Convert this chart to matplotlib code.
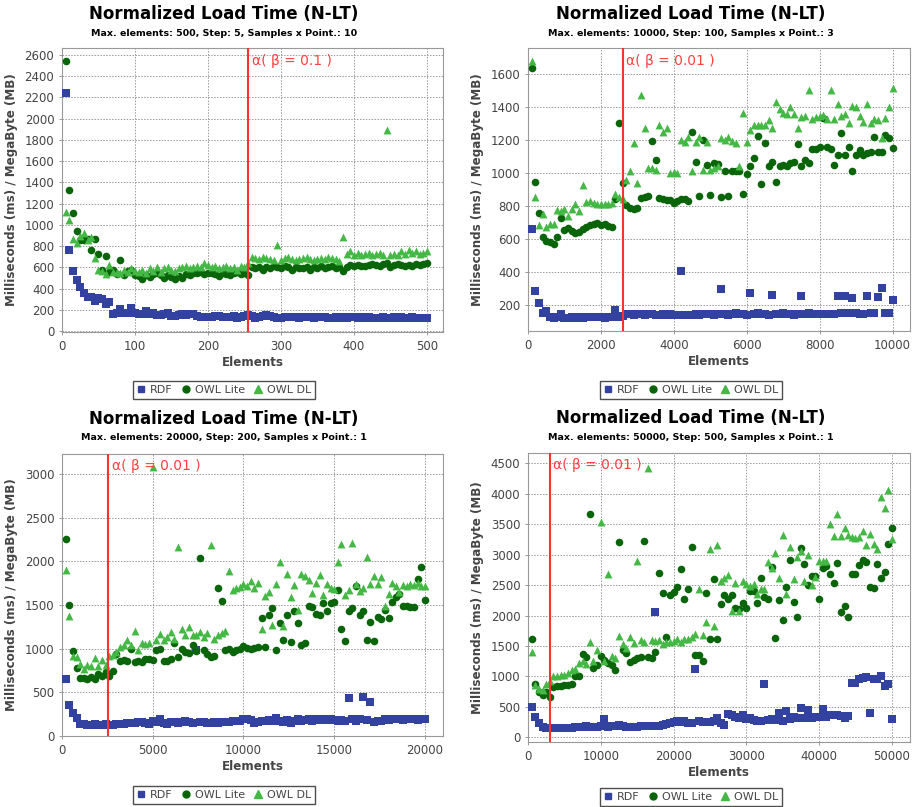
import matplotlib
matplotlib.use('Agg')
import matplotlib.pyplot as plt
from matplotlib.lines import Line2D
import numpy as np

plt.rc('font', family='DejaVu Sans', size=8)

W, H = 914, 807

BLUE = '#3341a0'
DARK_GREEN = '#0a640a'
LIGHT_GREEN = '#44b844'
TEXT_GRAY = '#444444'

series_names = ['RDF', 'OWL Lite', 'OWL DL']

# ---- panel 1: max 500, step 5, 10 samples ----
max1, step1 = 500, 5
rdf1 = [2240, 760, 570, 480, 420, 360, 320, 320, 280, 310,
        300, 260, 270, 160, 170, 210, 170, 175, 220, 170,
        160, 165, 190, 160, 170, 150, 150, 160, 170, 145,
        140, 155, 160, 150, 165, 160, 140, 130, 130, 135,
        130, 140, 145, 135, 130, 130, 140, 125, 130, 140,
        150, 140, 125, 130, 140, 150, 140, 130, 125, 120,
        130, 130, 135, 130, 125, 130, 130, 130, 125, 130,
        130, 135, 125, 120, 130, 125, 130, 125, 130, 130,
        125, 130, 125, 130, 125, 120, 125, 130, 125, 125,
        130, 125, 130, 125, 125, 130, 125, 125, 125, 125]
lite1 = [2540, 1330, 1110, 940, 860, 860, 870, 760, 870, 730,
         580, 710, 560, 580, 540, 670, 530, 570, 580, 530,
         520, 490, 530, 510, 540, 550, 530, 500, 530, 510,
         490, 520, 500, 540, 530, 550, 550, 560, 540, 550,
         550, 540, 520, 550, 540, 530, 550, 560, 540, 550,
         530, 600, 590, 600, 580, 600, 590, 610, 600, 590,
         610, 600, 580, 600, 590, 590, 600, 580, 600, 590,
         610, 590, 600, 610, 590, 600, 570, 600, 620, 610,
         620, 610, 610, 620, 630, 620, 610, 630, 640, 600,
         620, 630, 620, 610, 620, 610, 630, 620, 630, 645]
dl1 = [1120, 1050, 870, 830, 900, 920, 860, 890, 690, 580,
       570, 540, 620, 560, 560, 550, 580, 560, 590, 570,
       560, 580, 550, 590, 570, 600, 560, 590, 600, 580,
       570, 590, 600, 610, 590, 600, 610, 600, 640, 620,
       600, 610, 590, 600, 610, 590, 600, 580, 610, 600,
       640, 700, 690, 680, 700, 690, 680, 670, 810, 670,
       690, 700, 680, 670, 680, 690, 700, 680, 670, 680,
       690, 680, 700, 690, 680, 660, 890, 730, 750, 720,
       740, 720, 730, 740, 720, 730, 740, 720, 1890, 720,
       730, 720, 750, 730, 760, 740, 750, 730, 740, 750]

# ---- panel 2: max 10000, step 100, 3 samples ----
max2, step2 = 10000, 100
rdf2 = [660, 285, 215, 155, 165, 125, 120, 130, 145, 120,
        120, 125, 120, 125, 120, 125, 125, 130, 125, 125,
        120, 125, 125, 170, 130, 135, 145, 145, 140, 145,
        145, 140, 145, 145, 140, 140, 145, 140, 145, 140,
        140, 405, 140, 140, 140, 145, 140, 145, 145, 145,
        140, 145, 300, 145, 140, 145, 150, 145, 145, 140,
        275, 145, 150, 145, 145, 140, 260, 145, 145, 150,
        145, 145, 140, 145, 255, 145, 150, 145, 145, 145,
        145, 145, 145, 145, 255, 150, 255, 150, 245, 150,
        145, 145, 255, 150, 155, 250, 305, 150, 150, 230]
lite2 = [1635, 945, 755, 610, 590, 580, 570, 615, 730, 655,
         665, 650, 635, 645, 660, 670, 685, 690, 700, 685,
         690, 680, 675, 845, 1300, 940, 805, 790, 780, 790,
         850, 855, 860, 1195, 1080, 850, 840, 835, 835, 820,
         830, 840, 840, 830, 1250, 1065, 860, 1200, 1050, 865,
         1060, 1055, 855, 1015, 860, 1010, 1010, 1010, 870, 995,
         1040, 1090, 1225, 935, 1180, 1045, 1065, 945, 1045, 1050,
         1045, 1060, 1065, 1175, 1045, 1080, 1060, 1145, 1145, 1160,
         1335, 1160, 1145, 1050, 1110, 1240, 1110, 1160, 1015, 1110,
         1140, 1110, 1120, 1130, 1220, 1130, 1125, 1230, 1210, 1150]
dl2 = [1680, 855, 685, 750, 670, 690, 690, 775, 770, 780,
       740, 780, 810, 770, 925, 825, 830, 820, 810, 810,
       810, 815, 820, 875, 855, 840, 960, 1010, 1180, 940,
       1470, 1270, 1030, 1030, 1020, 1290, 1250, 1275, 1000, 1005,
       1000, 1200, 1190, 1220, 1010, 1185, 1220, 1020, 1190, 1020,
       1030, 1040, 1210, 1200, 1220, 1195, 1180, 1040, 1365, 1190,
       1260, 1290, 1290, 1290, 1290, 1320, 1275, 1430, 1390, 1365,
       1360, 1400, 1360, 1275, 1340, 1345, 1500, 1330, 1340, 1345,
       1350, 1330, 1505, 1325, 1415, 1345, 1355, 1300, 1405, 1400,
       1345, 1310, 1415, 1305, 1325, 1320, 1210, 1335, 1400, 1515]

# ---- panel 3: max 20000, step 200, 1 sample ----
max3, step3 = 20000, 200
rdf3 = [650, 360, 265, 205, 140, 135, 130, 130, 135, 130,
        130, 135, 125, 130, 140, 140, 135, 145, 150, 145,
        165, 160, 150, 140, 170, 160, 190, 150, 140, 160,
        160, 150, 155, 170, 165, 150, 990, 160, 155, 150,
        150, 155, 150, 160, 155, 160, 170, 175, 175, 200,
        190, 185, 150, 160, 170, 175, 180, 170, 205, 175,
        160, 180, 150, 175, 190, 170, 180, 190, 175, 200,
        180, 190, 185, 200, 180, 175, 185, 175, 440, 190,
        175, 200, 450, 185, 390, 165, 170, 175, 190, 180,
        200, 195, 190, 185, 200, 195, 190, 185, 200, 195]
lite3 = [2260, 1500, 970, 780, 660, 660, 650, 680, 650, 710,
         690, 730, 690, 750, 940, 860, 870, 860, 1000, 850,
         860, 850, 880, 880, 870, 980, 1000, 860, 860, 880,
         1070, 910, 1000, 960, 950, 1040, 970, 2040, 980, 940,
         910, 920, 1700, 1550, 980, 1000, 960, 980, 1000, 1030,
         1010, 1000, 1010, 1020, 1350, 1020, 1390, 1470, 990, 1300,
         1100, 1390, 1080, 1430, 1300, 1040, 1070, 1490, 1480, 1400,
         1390, 1520, 1430, 1520, 1540, 1670, 1230, 1090, 1430, 1470,
         1720, 1390, 1430, 1100, 1310, 1090, 1360, 1340, 1440, 1350,
         1540, 1590, 1630, 1490, 1490, 1480, 1480, 1800, 1930, 1560]
dl3 = [1900, 1370, 920, 910, 820, 770, 810, 800, 890, 800,
       870, 810, 920, 930, 960, 1020, 1040, 1100, 1040, 1200,
       990, 1060, 1050, 1060, 3080, 1100, 1170, 1100, 1130, 1190,
       1110, 2160, 1230, 1160, 1250, 1160, 1160, 1190, 1130, 1180,
       2190, 1110, 1160, 1180, 1200, 1890, 1670, 1700, 1710, 1740,
       1720, 1770, 1700, 1750, 1230, 1600, 1650, 1270, 1740, 1990,
       1260, 1850, 1590, 1730, 1440, 1860, 1830, 1790, 1640, 1750,
       1840, 1610, 1740, 1700, 1680, 1990, 2200, 1620, 1670, 2210,
       1740, 1660, 1690, 2050, 1740, 1830, 1740, 1820, 1490, 1630,
       1750, 1720, 1650, 1730, 1720, 1740, 1730, 1750, 1720, 1720]

# ---- panel 4: max 50000, step 500, 1 sample ----
max4, step4 = 50000, 500
rdf4 = [500, 330, 230, 175, 160, 150, 150, 155, 150, 160,
        155, 160, 165, 170, 170, 185, 175, 170, 175, 180,
        300, 175, 180, 190, 200, 185, 175, 170, 165, 175,
        190, 185, 180, 190, 2050, 180, 200, 220, 240, 250,
        260, 255, 270, 240, 230, 1120, 260, 255, 250, 250,
        260, 310, 230, 210, 390, 360, 340, 320, 370, 300,
        320, 280, 265, 260, 880, 290, 300, 280, 400, 260,
        430, 300, 330, 320, 480, 320, 450, 320, 340, 330,
        470, 340, 370, 370, 360, 345, 320, 350, 900, 890,
        960, 970, 990, 400, 950, 960, 1000, 850, 870, 300]
lite4 = [1620, 870, 740, 690, 740, 670, 830, 840, 850, 860,
         860, 870, 1000, 1000, 1370, 1325, 3670, 1135, 1190, 1330,
         1270, 1215, 1190, 1105, 3215, 1435, 1380, 1240, 1270, 1300,
         1325, 3225, 1325, 1300, 1400, 2700, 2375, 1650, 2340, 2390,
         2475, 2760, 2265, 2430, 3130, 1350, 1350, 1260, 2365, 1610,
         2595, 1610, 2190, 2340, 2265, 2340, 2125, 2100, 2210, 2130,
         2410, 2410, 2210, 2610, 2310, 2265, 2800, 1625, 2255, 1930,
         2475, 2910, 2230, 1980, 3105, 2850, 2500, 2650, 2650, 2265,
         2775, 2815, 2685, 2530, 2870, 2065, 2160, 1980, 2685, 2685,
         2830, 2910, 2880, 2465, 2450, 2850, 2610, 2710, 3175, 3440]
dl4 = [1400, 860, 800, 780, 880, 920, 1000, 1010, 1020, 1030,
       1050, 1100, 1120, 1220, 1250, 1200, 1560, 1250, 1440, 3540,
       1250, 2680, 1330, 1300, 1660, 1530, 1460, 1650, 1550, 2900,
       1600, 1560, 4420, 1600, 1580, 1600, 1530, 1560, 1560, 1580,
       1620, 1560, 1620, 1620, 1650, 1690, 2430, 1680, 1890, 3100,
       1830, 3150, 2570, 2620, 2660, 2080, 2530, 2070, 2560, 2520,
       2490, 2520, 2350, 2440, 2440, 2880, 2780, 3020, 2610, 3320,
       2360, 3120, 2600, 2960, 3060, 2560, 2990, 2500, 2640, 2900,
       2900, 2900, 3500, 3300, 3660, 3300, 3440, 3330, 3290, 3270,
       3290, 3390, 3150, 3340, 3170, 3100, 3940, 3760, 4060, 3260]


def px_box(left, top, right, bottom):
    return [left / W, 1 - bottom / H, (right - left) / W, (bottom - top) / H]


def fig_text(fig, x, y, s, **kw):
    fig.text(x / W, 1 - y / H, s, ha='center', va='center', **kw)


def draw_panel(fig, box, max_el, step, rdf, lite, dl, xlim, ylim, xticks, yticks,
               alpha_x, alpha_label, subtitle, cx, top, legend_y):
    ax = fig.add_axes(px_box(*box))
    xs = np.arange(step, max_el + 1, step)
    ax.scatter(xs, rdf, marker='s', s=28, color=BLUE, linewidths=0, zorder=3)
    ax.scatter(xs, lite, marker='o', s=30, color=DARK_GREEN, linewidths=0, zorder=3)
    ax.scatter(xs, dl, marker='^', s=32, color=LIGHT_GREEN, linewidths=0, zorder=3)

    ax.axvline(alpha_x, color='#ff3030', lw=1.5, zorder=4)
    ax.annotate(alpha_label, xy=(alpha_x, 1), xycoords=('data', 'axes fraction'),
                xytext=(2.5, -9), textcoords='offset points', ha='left', va='center',
                color='#ff4040', fontsize=10, zorder=5)

    ax.set_xlim(*xlim)
    ax.set_ylim(*ylim)
    ax.set_xticks(xticks)
    ax.set_yticks(yticks)
    ax.grid(True, color='#999999', linestyle=(0, (1.5, 1.5)), linewidth=0.7)
    ax.set_axisbelow(True)
    for sp in ax.spines.values():
        sp.set_color('#999999')
        sp.set_linewidth(0.8)
    ax.tick_params(colors='#888888', labelcolor=TEXT_GRAY, labelsize=8.5, length=2, width=0.6)

    left, t, right, bottom = box
    plot_cx = (left + right) / 2
    plot_cy = (t + bottom) / 2
    fig_text(fig, cx, top + 14, 'Normalized Load Time (N-LT)', fontsize=12, fontweight='bold', color='black')
    fig_text(fig, cx, top + 33, subtitle, fontsize=6.8, fontweight='bold', color='black')
    fig_text(fig, left - 50, plot_cy, 'Milliseconds (ms) / MegaByte (MB)', rotation=90,
             fontsize=8.6, fontweight='bold', color=TEXT_GRAY)
    fig_text(fig, plot_cx, bottom + 31, 'Elements', fontsize=8.6, fontweight='bold', color=TEXT_GRAY)

    handles = [
        Line2D([], [], marker='s', linestyle='none', color=BLUE, markersize=5),
        Line2D([], [], marker='o', linestyle='none', color=DARK_GREEN, markersize=5),
        Line2D([], [], marker='^', linestyle='none', color=LIGHT_GREEN, markersize=5.5),
    ]
    leg = ax.legend(handles, series_names, loc='center', ncol=3,
                    bbox_to_anchor=(cx / W, 1 - legend_y / H), bbox_transform=fig.transFigure,
                    frameon=True, fancybox=False, fontsize=8, handlelength=0.8,
                    handletextpad=0.4, columnspacing=0.8, borderpad=0.35, borderaxespad=0)
    leg.get_frame().set_edgecolor('#222222')
    leg.get_frame().set_linewidth(1.0)
    for txt in leg.get_texts():
        txt.set_color(TEXT_GRAY)
    return ax


fig = plt.figure(figsize=(W / 100, H / 100), dpi=100)
fig.patch.set_facecolor('white')

draw_panel(fig, (62, 48, 443, 332), max1, step1, rdf1, lite1, dl1,
           (0, 522), (-8, 2665), range(0, 501, 100), range(0, 2601, 200),
           255, 'α( β = 0.1 )', 'Max. elements: 500, Step: 5, Samples x Point.: 10',
           224, 0, 390)
draw_panel(fig, (528, 48, 910, 331), max2, step2, rdf2, lite2, dl2,
           (0, 10480), (43, 1757), range(0, 10001, 2000), range(200, 1601, 200),
           2600, 'α( β = 0.01 )', 'Max. elements: 10000, Step: 100, Samples x Point.: 3',
           691, 0, 390)
draw_panel(fig, (62, 454, 443, 736), max3, step3, rdf3, lite3, dl3,
           (0, 21000), (0, 3230), range(0, 20001, 5000), range(0, 3001, 500),
           2550, 'α( β = 0.01 )', 'Max. elements: 20000, Step: 200, Samples x Point.: 1',
           224, 405, 795)
draw_panel(fig, (528, 453, 910, 742), max4, step4, rdf4, lite4, dl4,
           (0, 52500), (-77, 4669), range(0, 50001, 10000), range(0, 4501, 500),
           3000, 'α( β = 0.01 )', 'Max. elements: 50000, Step: 500, Samples x Point.: 1',
           691, 404, 797)

fig.savefig('out.png', dpi=100)
